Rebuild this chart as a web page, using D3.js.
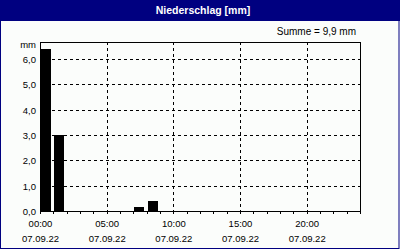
<!DOCTYPE html>
<html>
<head>
<meta charset="utf-8">
<script src="https://cdn.jsdelivr.net/npm/d3@7"></script>
<style>
  body { margin: 0; background: #fff; }
  svg { display: block; }
  text { font-family: "Liberation Sans", Arial, sans-serif; fill: #000; }
</style>
</head>
<body>
<div id="chart"></div>
<script>
// hourly precipitation, 07.09.22
var hours = [0, 1, 7, 8];
var amounts = [6.4, 3.0, 0.15, 0.4];
var xTickHours = [0, 5, 10, 15, 20];
var xTickLabels = ["00:00", "05:00", "10:00", "15:00", "20:00"];
var dateLabel = "07.09.22";
var yTicks = [0, 1, 2, 3, 4, 5, 6];
var title = "Niederschlag [mm]";
var sumText = "Summe = 9,9 mm";

var width = 400, height = 250,
  plot = {left: 40, right: 360, top: 42, bottom: 211};

var svg = d3.select("#chart").append("svg")
  .attr("width", width)
  .attr("height", height);

// background + frame
svg.append("rect")
  .attr("x", 0.5).attr("y", 0.5)
  .attr("width", 398.5).attr("height", 248)
  .style("fill", "#fbfdfb")
  .style("stroke", "#000080");

svg.append("rect")
  .attr("x", 0).attr("y", 0)
  .attr("width", width).attr("height", 21)
  .style("fill", "#000080");

svg.append("text")
  .attr("x", 203).attr("y", 14)
  .style("text-anchor", "middle")
  .style("font-weight", "bold")
  .style("font-size", "10.5px")
  .style("fill", "#fff")
  .text(title);

svg.append("text")
  .attr("x", 356).attr("y", 34.5)
  .style("text-anchor", "end")
  .style("font-size", "10px")
  .text(sumText);

var x = d3.scaleLinear().domain([0, 24]).range([plot.left, plot.right]);
var y = d3.scaleLinear().domain([0, 6.67]).range([plot.bottom, plot.top]);

// dashed grid
var grid = svg.append("g").attr("class", "grid");
grid.selectAll("line.h")
  .data(yTicks.filter(function(d) { return d > 0; }))
  .enter().append("line")
  .attr("class", "h")
  .attr("x1", plot.left).attr("x2", plot.right)
  .attr("y1", function(d) { return Math.round(y(d)) + 0.5; })
  .attr("y2", function(d) { return Math.round(y(d)) + 0.5; });
grid.selectAll("line.v")
  .data(xTickHours.filter(function(d) { return d > 0; }))
  .enter().append("line")
  .attr("class", "v")
  .attr("x1", function(d) { return Math.round(x(d)) + 0.5; })
  .attr("x2", function(d) { return Math.round(x(d)) + 0.5; })
  .attr("y1", plot.top).attr("y2", plot.bottom);
grid.selectAll("line")
  .style("stroke", "#000")
  .style("stroke-width", 1)
  .style("stroke-dasharray", "3,3");

// bars
svg.selectAll("rect.bar")
  .data(hours)
  .enter().append("rect")
  .attr("class", "bar")
  .attr("x", function(d) { return Math.round(x(d)) + (d === 0 ? 0 : 1); })
  .attr("width", function(d) { return d === 0 ? 11 : 10; })
  .attr("y", function(d, i) { return Math.round(y(amounts[i])); })
  .attr("height", function(d, i) { return plot.bottom - Math.round(y(amounts[i])); })
  .style("fill", "#000");

// plot frame
svg.append("rect")
  .attr("x", plot.left + 0.5).attr("y", plot.top + 0.5)
  .attr("width", plot.right - plot.left).attr("height", plot.bottom - plot.top)
  .style("fill", "none")
  .style("stroke", "#000");

// hourly ticks under the axis
svg.selectAll("line.tick")
  .data(d3.range(0, 25))
  .enter().append("line")
  .attr("class", "tick")
  .attr("x1", function(d) { return Math.round(x(d)) + 0.5; })
  .attr("x2", function(d) { return Math.round(x(d)) + 0.5; })
  .attr("y1", plot.bottom).attr("y2", plot.bottom + 3)
  .style("stroke", "#000");

// x labels
var xl = svg.selectAll("g.xl")
  .data(xTickHours)
  .enter().append("g")
  .attr("class", "xl")
  .attr("transform", function(d) { return "translate(" + (x(d) + 0.5) + ",0)"; });
xl.append("text")
  .attr("y", 227)
  .style("text-anchor", "middle")
  .style("font-size", "9.5px")
  .text(function(d, i) { return xTickLabels[i]; });
xl.append("text")
  .attr("y", 242)
  .style("text-anchor", "middle")
  .style("font-size", "9.5px")
  .text(dateLabel);

// y labels
svg.selectAll("text.yl")
  .data(yTicks)
  .enter().append("text")
  .attr("class", "yl")
  .attr("x", 36)
  .attr("y", function(d) { return Math.round(y(d)) + 3.5; })
  .style("text-anchor", "end")
  .style("font-size", "9.5px")
  .text(function(d) { return d3.format(".1f")(d).replace(".", ","); });

svg.append("text")
  .attr("x", 36).attr("y", 48)
  .style("text-anchor", "end")
  .style("font-size", "9.5px")
  .text("mm");
</script>
</body>
</html>
